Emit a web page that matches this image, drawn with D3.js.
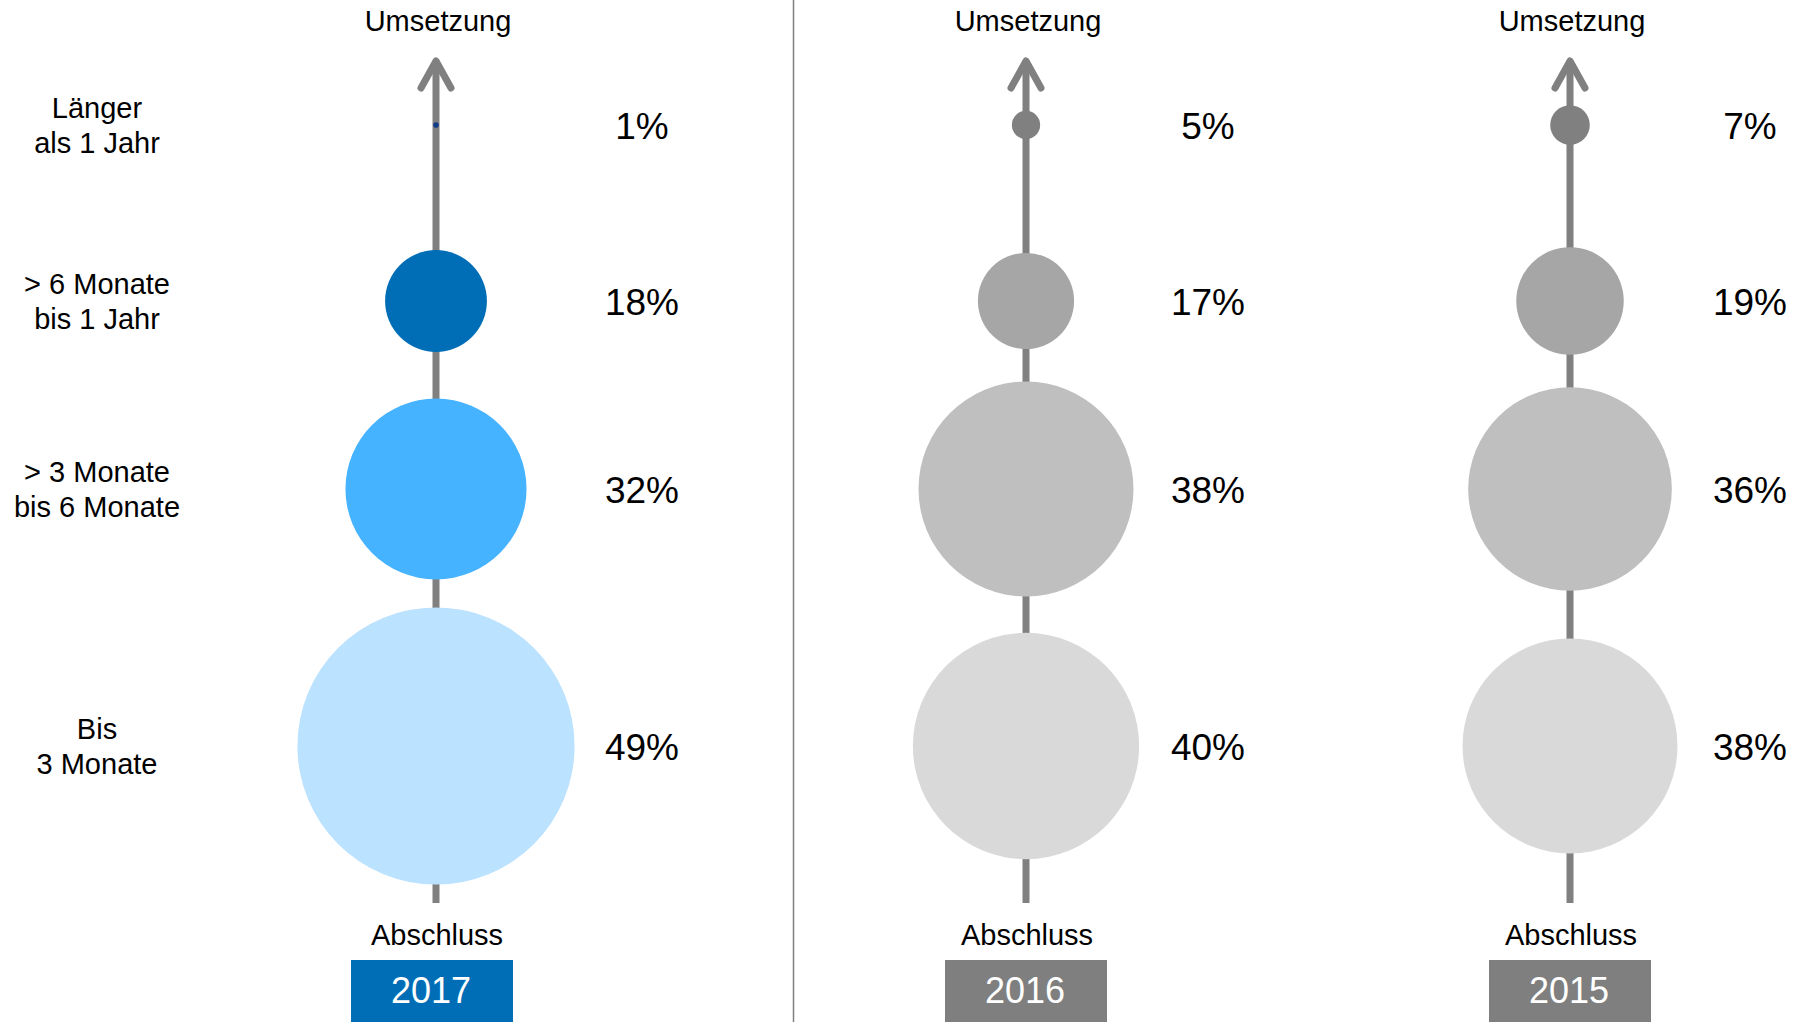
<!DOCTYPE html>
<html>
<head>
<meta charset="utf-8">
<script src="https://cdn.jsdelivr.net/npm/d3@7"></script>
<style>
  html, body { margin: 0; padding: 0; background: #fff; }
  svg { display: block; font-family: "Liberation Sans", Arial, sans-serif; }
</style>
</head>
<body>
<svg id="chart" width="1796" height="1022"></svg>
<script>
// ---- data ----
const categories = ["Länger als 1 Jahr", "> 6 Monate bis 1 Jahr", "> 3 Monate bis 6 Monate", "Bis 3 Monate"];
const categoryLines = [["Länger", "als 1 Jahr"], ["> 6 Monate", "bis 1 Jahr"], ["> 3 Monate", "bis 6 Monate"], ["Bis", "3 Monate"]];
const years = ["2017", "2016", "2015"];
const values2017 = [1, 18, 32, 49];
const values2016 = [5, 17, 38, 40];
const values2015 = [7, 19, 36, 38];
const topLabel = "Umsetzung";
const bottomLabel = "Abschluss";

// ---- styles / layout ----
const colors2017 = ["#123C88", "#006EB6", "#45B3FF", "#BBE2FE"];
const colorsGray = ["#808080", "#A6A6A6", "#BFBFBF", "#D9D9D9"];
const boxColors = ["#006EB6", "#7F7F7F", "#7F7F7F"];
const axisColor = "#808080";

const W = 1796, H = 1022;
const svg = d3.select("#chart");

const panels = [
  { year: years[0], values: values2017, colors: colors2017 },
  { year: years[1], values: values2016, colors: colorsGray },
  { year: years[2], values: values2015, colors: colorsGray }
];

// horizontal positions of the panel axes, percentage labels and year boxes
const xAxisPos = d3.scaleOrdinal().domain(years).range([436, 1026, 1570]);
const xPctPos = d3.scaleOrdinal().domain(years).range([642, 1208, 1750]);
const xBoxPos = d3.scaleOrdinal().domain(years).range([432, 1026, 1570]);
// vertical row centers
const yRow = d3.scaleOrdinal().domain(categories).range([125, 301, 489, 746]);
// radius linear in value
const rScale = d3.scaleLinear().domain([0, 49]).range([0, 138.6]);

const axisTop = 61, axisBottom = 903;

// divider
svg.append("line")
  .attr("x1", 793.5).attr("x2", 793.5).attr("y1", 0).attr("y2", H)
  .attr("stroke", axisColor).attr("stroke-width", 1.5);

// category labels
const catG = svg.append("g");
categories.forEach((c, i) => {
  const t = catG.append("text")
    .attr("x", 97).attr("y", yRow(c))
    .attr("text-anchor", "middle")
    .attr("font-size", 29).attr("fill", "#000");
  categoryLines[i].forEach((ln, j) => {
    t.append("tspan").attr("x", 97)
      .attr("y", yRow(c) + (j === 0 ? -7.5 : 27.5))
      .text(ln);
  });
});

panels.forEach((p, pi) => {
  const x = xAxisPos(p.year);
  const g = svg.append("g");

  // axis line
  g.append("line")
    .attr("x1", x).attr("x2", x).attr("y1", axisTop + 3).attr("y2", axisBottom)
    .attr("stroke", axisColor).attr("stroke-width", 7);
  // arrow head
  g.append("path")
    .attr("d", d3.line()([[x - 15, 88], [x, axisTop], [x + 15, 88]]))
    .attr("fill", "none").attr("stroke", axisColor).attr("stroke-width", 7)
    .attr("stroke-linecap", "round").attr("stroke-linejoin", "round");

  // top / bottom labels
  g.append("text").attr("x", x + 2).attr("y", 31)
    .attr("text-anchor", "middle").attr("font-size", 29).text(topLabel);
  g.append("text").attr("x", x + 1).attr("y", 945)
    .attr("text-anchor", "middle").attr("font-size", 29).text(bottomLabel);

  // circles
  g.selectAll("circle").data(p.values).join("circle")
    .attr("cx", x)
    .attr("cy", (d, i) => yRow(categories[i]))
    .attr("r", d => rScale(d))
    .attr("fill", (d, i) => p.colors[i]);

  // percentage labels
  g.selectAll("text.pct").data(p.values).join("text")
    .attr("class", "pct")
    .attr("x", xPctPos(p.year))
    .attr("y", (d, i) => yRow(categories[i]))
    .attr("dy", "0.38em")
    .attr("text-anchor", "middle").attr("font-size", 37).attr("fill", "#000")
    .text(d => d + "%");

  // year box
  const bw = 162, bx = xBoxPos(p.year);
  g.append("rect")
    .attr("x", bx - bw / 2).attr("y", 960)
    .attr("width", bw).attr("height", 70)
    .attr("fill", boxColors[pi]);
  g.append("text")
    .attr("x", bx - 1).attr("y", 1003)
    .attr("text-anchor", "middle").attr("font-size", 36).attr("fill", "#fff")
    .text(p.year);
});
</script>
</body>
</html>
